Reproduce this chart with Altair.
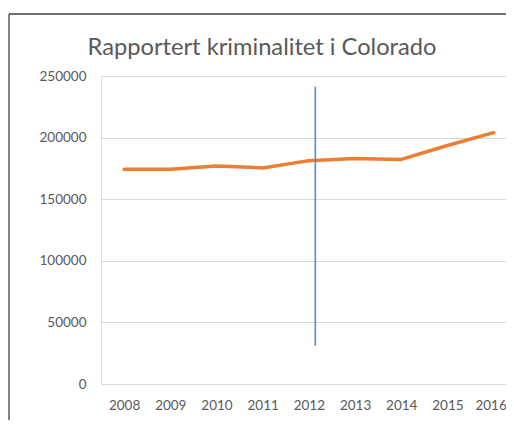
import altair as alt
import pandas as pd

years = [2008, 2009, 2010, 2011, 2012, 2013, 2014, 2015, 2016]
crimes = [174300, 174300, 177000, 175400, 181300, 183000, 182300, 193600, 204000]
marker_x = [2012.14]
marker_top = [241300]
marker_bottom = [31100]
y_ticks = [0, 50000, 100000, 150000, 200000, 250000]
title_text = ["Rapportert kriminalitet i Colorado"]

df = pd.DataFrame({"year": years, "crimes": crimes})
mk = pd.DataFrame({"x": marker_x, "y": marker_top, "y2": marker_bottom})
tdf = pd.DataFrame({"t": title_text})

FONT = "Lato"
GREY = "#595959"

x_scale = alt.Scale(domain=[2007.5, 2016.268], nice=False, zero=False)
y_scale = alt.Scale(domain=[0, 250000], nice=False)

x_axis = alt.Axis(values=years, format="d", title=None, grid=False, domain=False,
                  ticks=False, labelFlush=False, labelPadding=14, labelFont=FONT,
                  labelFontSize=13.5, labelColor=GREY,
                  labelOffset=alt.expr("datum.value == 2016 ? -3 : 0"))
y_axis = alt.Axis(values=y_ticks, format="d", title=None, grid=True, gridColor="#d9d9d9",
                  gridWidth=1, domain=False, ticks=False, labelPadding=15,
                  labelFont=FONT, labelFontSize=13.5, labelColor=GREY)

line = alt.Chart(df).mark_line(color="#ED7D31", strokeWidth=3.5, strokeCap="round",
                               strokeJoin="round").encode(
    x=alt.X("year:Q", scale=x_scale, axis=x_axis),
    y=alt.Y("crimes:Q", scale=y_scale, axis=y_axis),
)

marker = alt.Chart(mk).mark_rule(color="#4F8BDA", strokeWidth=1.6).encode(
    x=alt.X("x:Q", scale=x_scale),
    y=alt.Y("y:Q", scale=y_scale),
    y2="y2:Q",
)

border_top = alt.Chart(tdf).mark_rule(color="#404040", strokeWidth=1.3).encode(
    x=alt.value(-92), x2=alt.value(405), y=alt.value(-62)
)
border_left = alt.Chart(tdf).mark_rule(color="#404040", strokeWidth=1.3).encode(
    x=alt.value(-92), y=alt.value(-62), y2=alt.value(344)
)

title = alt.Chart(tdf).mark_text(font=FONT, fontSize=23.7, color=GREY, align="center",
                                 baseline="alphabetic").encode(
    text="t:N", x=alt.value(161), y=alt.value(-21)
)

chart = alt.layer(line, marker, border_top, border_left, title).properties(
    width=405,
    height=308,
    autosize=alt.AutoSizeParams(type="none"),
    padding={"left": 93, "top": 68, "right": 0, "bottom": 36},
).configure_view(stroke=None).configure(background="white")

chart.save("out.html", embed_options={"renderer": "svg", "actions": False})
